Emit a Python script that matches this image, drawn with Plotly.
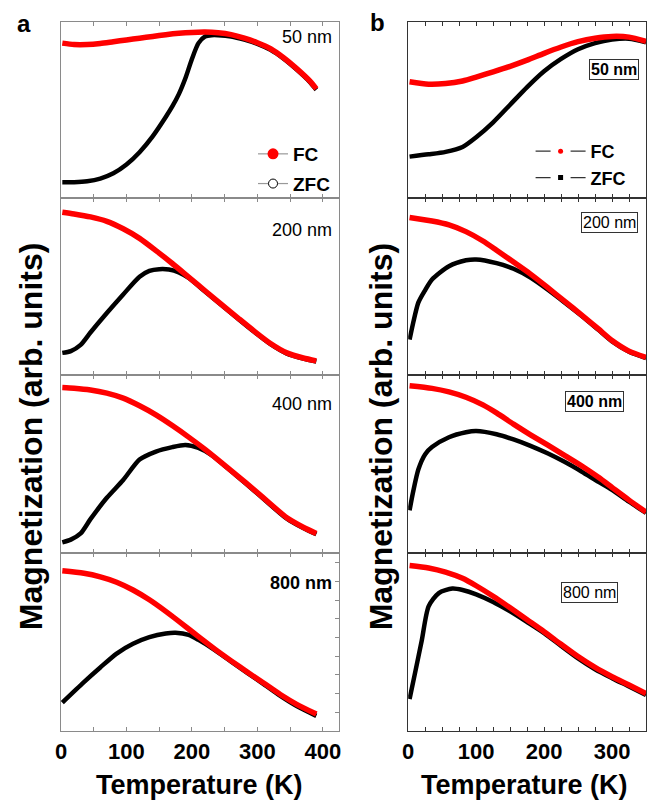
import plotly.graph_objects as go

# ---------------- data (normalized magnetization, arb. units) ----------------
# panel a
T_a50_fc = [2, 20, 40, 60, 80, 100, 120, 140, 160, 180, 200, 220, 240, 260, 280, 300, 320, 340, 360, 380, 390]
fc_a50 = [0.88, 0.872, 0.872, 0.878, 0.888, 0.898, 0.908, 0.918, 0.928, 0.936, 0.941, 0.943, 0.939, 0.928,
          0.908, 0.882, 0.848, 0.797, 0.735, 0.665, 0.62]
T_a50_zfc = [2, 20, 40, 60, 80, 100, 120, 140, 160, 170, 180, 190, 200, 210, 220, 230, 240, 260, 280, 300,
             320, 340, 360, 380, 390]
zfc_a50 = [0.09, 0.09, 0.095, 0.11, 0.14, 0.19, 0.26, 0.35, 0.46, 0.52, 0.59, 0.68, 0.79, 0.88, 0.918, 0.925,
           0.925, 0.918, 0.9, 0.876, 0.842, 0.792, 0.73, 0.66, 0.615]

T_a200_fc = [2, 20, 45, 70, 95, 120, 145, 170, 195, 220, 245, 270, 295, 320, 345, 370, 390]
fc_a200 = [0.92, 0.91, 0.893, 0.868, 0.826, 0.772, 0.703, 0.63, 0.553, 0.476, 0.399, 0.323, 0.248, 0.178,
           0.125, 0.096, 0.08]
T_a200_zfc = [2, 15, 30, 45, 70, 95, 120, 135, 150, 165, 180, 195, 220, 245, 270, 295, 320, 345, 370, 390]
zfc_a200 = [0.125, 0.135, 0.17, 0.24, 0.35, 0.455, 0.555, 0.588, 0.598, 0.596, 0.58, 0.548, 0.472, 0.395,
            0.319, 0.244, 0.174, 0.121, 0.093, 0.076]

T_a400_fc = [2, 20, 45, 70, 95, 120, 145, 170, 195, 220, 245, 270, 295, 320, 345, 370, 390]
fc_a400 = [0.93, 0.926, 0.916, 0.898, 0.87, 0.827, 0.776, 0.716, 0.651, 0.582, 0.508, 0.432, 0.355, 0.275,
           0.198, 0.145, 0.11]
T_a400_zfc = [2, 15, 30, 45, 70, 95, 120, 145, 170, 190, 210, 230, 250, 270, 295, 320, 345, 370, 390]
zfc_a400 = [0.06, 0.075, 0.11, 0.19, 0.31, 0.41, 0.525, 0.57, 0.595, 0.607, 0.59, 0.55, 0.49, 0.428, 0.35,
            0.27, 0.193, 0.14, 0.105]

T_a800_fc = [2, 35, 60, 85, 110, 135, 160, 185, 210, 235, 260, 285, 310, 335, 360, 390]
fc_a800 = [0.90, 0.886, 0.866, 0.836, 0.792, 0.737, 0.672, 0.602, 0.53, 0.46, 0.394, 0.33, 0.268, 0.205,
           0.15, 0.095]
T_a800_zfc = [2, 35, 60, 85, 110, 135, 160, 175, 195, 210, 235, 260, 285, 310, 335, 360, 390]
zfc_a800 = [0.16, 0.275, 0.357, 0.435, 0.49, 0.527, 0.548, 0.552, 0.54, 0.512, 0.455, 0.39, 0.325, 0.262,
            0.197, 0.14, 0.085]

# panel b
T_b50 = [2, 30, 55, 80, 100, 125, 150, 175, 200, 225, 250, 275, 300, 325, 350]
fc_b50 = [0.66, 0.646, 0.65, 0.665, 0.687, 0.717, 0.748, 0.783, 0.822, 0.858, 0.888, 0.908, 0.918, 0.914, 0.89]
zfc_b50 = [0.235, 0.248, 0.262, 0.29, 0.345, 0.43, 0.53, 0.63, 0.72, 0.79, 0.845, 0.88, 0.90, 0.905, 0.885]

T_b200_fc = [2, 35, 60, 85, 110, 130, 155, 180, 205, 230, 255, 280, 300, 325, 350]
fc_b200 = [0.89, 0.87, 0.848, 0.81, 0.757, 0.705, 0.638, 0.57, 0.495, 0.417, 0.34, 0.26, 0.195, 0.135, 0.10]
T_b200_zfc = [2, 7, 15, 25, 35, 60, 85, 100, 130, 155, 180, 205, 230, 255, 280, 300, 325, 350]
zfc_b200 = [0.20, 0.29, 0.41, 0.48, 0.54, 0.615, 0.648, 0.653, 0.632, 0.60, 0.55, 0.483, 0.41, 0.335, 0.255,
            0.19, 0.132, 0.096]

T_b400_fc = [2, 35, 60, 85, 110, 130, 155, 180, 205, 230, 255, 280, 300, 325, 350]
fc_b400 = [0.94, 0.925, 0.905, 0.875, 0.832, 0.787, 0.724, 0.664, 0.607, 0.549, 0.49, 0.425, 0.368, 0.297, 0.23]
T_b400_zfc = [2, 7, 15, 25, 35, 60, 85, 100, 130, 155, 180, 205, 230, 255, 280, 300, 325, 350]
zfc_b400 = [0.24, 0.34, 0.47, 0.555, 0.595, 0.65, 0.678, 0.685, 0.667, 0.638, 0.602, 0.56, 0.512, 0.458, 0.40,
            0.355, 0.288, 0.225]

T_b800_fc = [2, 30, 55, 80, 100, 125, 150, 175, 200, 225, 250, 275, 300, 325, 350]
fc_b800 = [0.93, 0.916, 0.893, 0.858, 0.816, 0.757, 0.692, 0.625, 0.558, 0.487, 0.418, 0.357, 0.305, 0.258, 0.21]
T_b800_zfc = [2, 10, 20, 30, 45, 65, 80, 100, 125, 150, 175, 200, 225, 250, 275, 300, 325, 350]
zfc_b800 = [0.18, 0.325, 0.51, 0.70, 0.775, 0.80, 0.792, 0.768, 0.725, 0.672, 0.612, 0.55, 0.478, 0.408,
            0.347, 0.297, 0.25, 0.202]

thickness_labels = ["50 nm", "200 nm", "400 nm", "800 nm"]
x_ticks = [0, 100, 200, 300, 400]

panels_a = [(T_a50_fc, fc_a50, T_a50_zfc, zfc_a50), (T_a200_fc, fc_a200, T_a200_zfc, zfc_a200),
            (T_a400_fc, fc_a400, T_a400_zfc, zfc_a400), (T_a800_fc, fc_a800, T_a800_zfc, zfc_a800)]
panels_b = [(T_b50, fc_b50, T_b50, zfc_b50), (T_b200_fc, fc_b200, T_b200_zfc, zfc_b200),
            (T_b400_fc, fc_b400, T_b400_zfc, zfc_b400), (T_b800_fc, fc_b800, T_b800_zfc, zfc_b800)]

# ---------------- layout geometry ----------------
FONT = "Liberation Sans, Arial, sans-serif"
W, H = 651, 801
ML, MR, MT, MB = 61, 2, 22, 70
PW, PH = W - ML - MR, H - MT - MB


def fx(p):
    return (p - ML) / PW


def fy(p):
    return (H - MB - p) / PH


row_px = [(22, 198), (198, 375), (375, 553), (553, 731)]
col_px = [(61, 340), (410, 649)]
col_range = [[0, 424], [0, 350]]
col_minor = [50, 25]
col_line = ["#8a8a8a", "#333333"]

fig = go.Figure()
layout = dict(width=W, height=H, margin=dict(l=ML, r=MR, t=MT, b=MB),
              paper_bgcolor="white", plot_bgcolor="white", showlegend=True,
              font=dict(family=FONT, color="black"))

for c, panels in enumerate([panels_a, panels_b]):
    for r, (tf, fc, tz, zfc) in enumerate(panels):
        k = r * 2 + c + 1
        xa = "x" if k == 1 else f"x{k}"
        ya = "y" if k == 1 else f"y{k}"
        fig.add_trace(go.Scatter(x=tz, y=zfc, mode="lines", line=dict(color="black", width=4.5, shape="spline",
                                 smoothing=0.7), xaxis=xa, yaxis=ya, showlegend=False, name="ZFC"))
        fig.add_trace(go.Scatter(x=tf, y=fc, mode="lines", line=dict(color="#ff0000", width=5.5, shape="spline",
                                 smoothing=0.7), xaxis=xa, yaxis=ya, showlegend=False, name="FC"))
        bottom = (r == 3)
        layout[f"xaxis{k}"] = dict(
            domain=[fx(col_px[c][0]), fx(col_px[c][1])], anchor=ya, range=col_range[c],
            showline=True, mirror="ticks", linecolor=col_line[c], linewidth=1.2,
            ticks="inside", ticklen=4, tickcolor=col_line[c], tickvals=x_ticks,
            minor=dict(dtick=col_minor[c], ticks="inside", ticklen=4, tickcolor=col_line[c]),
            showticklabels=bottom, showgrid=False, zeroline=False,
            tickfont=dict(family=FONT, size=22, weight="bold", color="black"))
        layout[f"yaxis{k}"] = dict(
            domain=[fy(row_px[r][1]), fy(row_px[r][0])], anchor=xa, range=[0, 1],
            showline=True, mirror=True, linecolor=col_line[c], linewidth=1.2,
            ticks="", showticklabels=False, showgrid=False, zeroline=False)

# extra right-side minor ticks in panel a, 800 nm
fig.add_trace(go.Scatter(x=[None], y=[None], xaxis="x7", yaxis="y9", showlegend=False))
layout["yaxis9"] = dict(overlaying="y7", anchor="x7", side="right", range=[0, 1], tick0=0, dtick=0.105,
                        ticks="inside", ticklen=4, tickcolor="#8a8a8a", showticklabels=False,
                        showgrid=False, zeroline=False, showline=False)

# legends (entries only)
fig.add_trace(go.Scatter(x=[None], y=[None], mode="lines+markers", name="FC", legend="legend", legendgroup="a1",
                         line=dict(color="#999999", width=1.2), marker=dict(color="#ff0000", size=11)))
fig.add_trace(go.Scatter(x=[None], y=[None], mode="lines+markers", name="ZFC", legend="legend", legendgroup="a2",
                         line=dict(color="#999999", width=1.2),
                         marker=dict(color="white", size=9, line=dict(color="black", width=1))))
fig.add_trace(go.Scatter(x=[None], y=[None], mode="lines+markers", name="FC", legend="legend2", legendgroup="b1",
                         xaxis="x2", yaxis="y2",
                         line=dict(color="#333333", width=1.2, dash="15px,20px"),
                         marker=dict(color="#ff0000", size=5)))
fig.add_trace(go.Scatter(x=[None], y=[None], mode="lines+markers", name="ZFC", legend="legend2", legendgroup="b2",
                         xaxis="x2", yaxis="y2",
                         line=dict(color="#333333", width=1.2, dash="15px,20px"),
                         marker=dict(color="black", size=5, symbol="square")))

layout["legend"] = dict(x=fx(254), y=fy(135), xanchor="left", yanchor="top", bgcolor="rgba(0,0,0,0)",
                        traceorder="grouped", tracegroupgap=2, itemwidth=30,
                        font=dict(family=FONT, size=19, weight="bold", color="black"))
layout["legend2"] = dict(x=fx(533), y=fy(133), xanchor="left", yanchor="top", bgcolor="rgba(0,0,0,0)",
                         traceorder="grouped", tracegroupgap=0, itemwidth=50,
                         font=dict(family=FONT, size=18, weight="bold", color="black"))

ann = []
# panel a thickness labels
a_label_y = [37, 230, 404, 583]
for r, lab in enumerate(thickness_labels):
    txt = f"<b>{lab}</b>" if r == 3 else lab
    ann.append(dict(text=txt, x=fx(335), y=fy(a_label_y[r]), xref="paper", yref="paper", xanchor="right",
                    yanchor="middle", showarrow=False, font=dict(family=FONT, size=18, color="black")))
# panel b thickness labels (boxed)
b_label = [(617, 69, True), (612, 222, False), (597, 401, True), (592, 592, False)]
for r, lab in enumerate(thickness_labels):
    cx, cy, bold = b_label[r]
    ann.append(dict(text=f"<b>{lab}</b>" if bold else lab, x=fx(cx), y=fy(cy), xref="paper", yref="paper",
                    xanchor="center", yanchor="middle", showarrow=False, bordercolor="#333333", borderwidth=1,
                    borderpad=1, bgcolor="white", font=dict(family=FONT, size=16, color="black")))
# panel letters
ann.append(dict(text="<b>a</b>", x=fx(24), y=fy(23), xref="paper", yref="paper", showarrow=False,
                xanchor="center", yanchor="middle", font=dict(family=FONT, size=24, color="black")))
ann.append(dict(text="<b>b</b>", x=fx(379), y=fy(22), xref="paper", yref="paper", showarrow=False,
                xanchor="center", yanchor="middle", font=dict(family=FONT, size=24, color="black")))
# axis titles
for cx in (31, 383):
    ann.append(dict(text="<b>Magnetization (arb. units)</b>", x=fx(cx), y=fy(436), xref="paper", yref="paper",
                    showarrow=False, textangle=-90, xanchor="center", yanchor="middle",
                    font=dict(family=FONT, size=32, color="black")))
for cx in (200, 527):
    ann.append(dict(text="<b>Temperature (K)</b>", x=fx(cx), y=fy(785), xref="paper", yref="paper",
                    showarrow=False, xanchor="center", yanchor="middle",
                    font=dict(family=FONT, size=27, color="black")))
layout["annotations"] = ann

fig.update_layout(**layout)
fig.write_html("out.html")
